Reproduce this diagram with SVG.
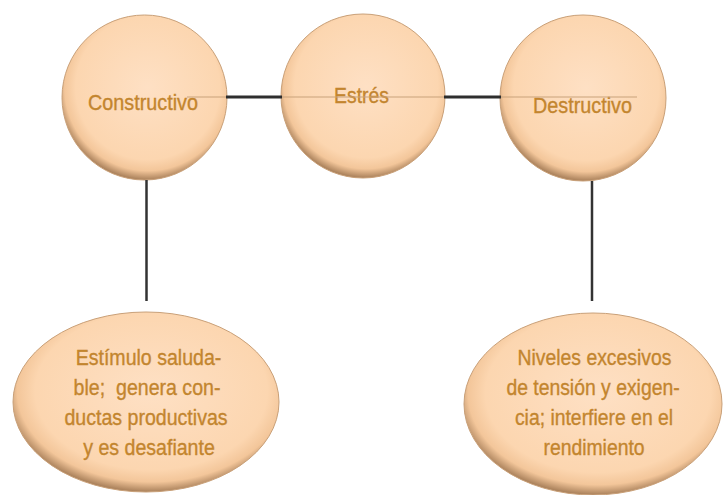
<svg xmlns="http://www.w3.org/2000/svg" width="723" height="495" viewBox="0 0 723 495">
  <defs>
    <radialGradient id="peach" cx="52%" cy="44%" r="56%">
      <stop offset="0%" stop-color="#fee0c4"/>
      <stop offset="78%" stop-color="#fcd6b0"/>
      <stop offset="90%" stop-color="#f3c69a"/>
      <stop offset="100%" stop-color="#a9805a"/>
    </radialGradient>
    <style>
      .node { fill: url(#peach); stroke: #c9a078; stroke-width: 1; }
      .label { font-family: "Liberation Sans", Arial, sans-serif; font-size: 22px; fill: #c3852e; stroke: #c3852e; stroke-width: 0.35; text-anchor: middle; }
      .dark { stroke: #2e2e2e; stroke-width: 3; fill: none; }
      .vert { stroke: #333333; stroke-width: 2.5; fill: none; }
      .thin { stroke: #c9a27a; stroke-width: 1; fill: none; }
    </style>
  </defs>
  <rect width="723" height="495" fill="#ffffff"/>

  <g id="node-constructivo">
    <circle class="node" cx="144.5" cy="97.5" r="82.5"/>
    <text class="label" transform="translate(143,110) scale(0.9,1)">Constructivo</text>
  </g>

  <g id="node-estres">
    <circle class="node" cx="363" cy="96" r="82"/>
    <text class="label" transform="translate(361.5,103) scale(0.88,1)">Estrés</text>
  </g>

  <g id="node-destructivo">
    <circle class="node" cx="583" cy="98" r="83"/>
    <text class="label" transform="translate(582.5,113) scale(0.9,1)">Destructivo</text>
  </g>

  <g id="node-estimulo">
    <ellipse class="node" cx="146" cy="402" rx="133" ry="90"/>
    <text class="label" transform="translate(148.5,364.5) scale(0.89,1)">Estímulo saluda-</text>
    <text class="label" xml:space="preserve" transform="translate(147,394.5) scale(0.89,1)">ble;  genera con-</text>
    <text class="label" transform="translate(146,424.5) scale(0.89,1)">ductas productivas</text>
    <text class="label" transform="translate(149,454.5) scale(0.89,1)">y es desafiante</text>
  </g>

  <g id="node-niveles">
    <ellipse class="node" cx="593" cy="404" rx="129" ry="91"/>
    <text class="label" transform="translate(594.5,364.5) scale(0.88,1)">Niveles excesivos</text>
    <text class="label" transform="translate(593,394.5) scale(0.88,1)">de tensión y exigen-</text>
    <text class="label" transform="translate(594,424.5) scale(0.88,1)">cia; interfiere en el</text>
    <text class="label" transform="translate(594,454.5) scale(0.88,1)">rendimiento</text>
  </g>

  <g id="connectors">
    <line class="thin" x1="187" y1="97" x2="637" y2="97"/>
    <line class="dark" x1="226" y1="97" x2="282" y2="97"/>
    <line class="dark" x1="444" y1="97" x2="501" y2="97"/>
    <line class="vert" x1="146.5" y1="180" x2="146.5" y2="301"/>
    <line class="vert" x1="592" y1="181" x2="592" y2="301"/>
  </g>
</svg>
